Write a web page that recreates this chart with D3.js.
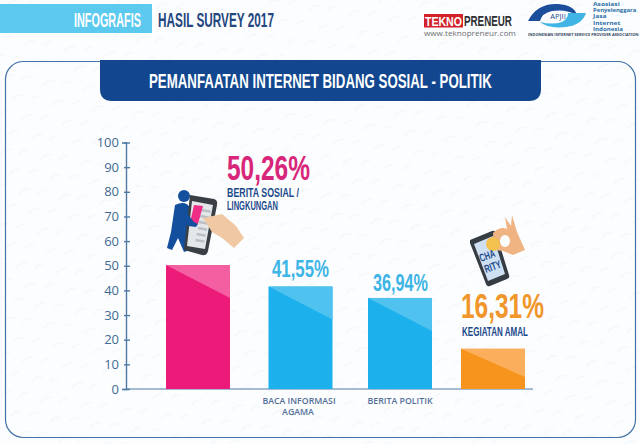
<!DOCTYPE html>
<html>
<head>
<meta charset="utf-8">
<script src="https://cdnjs.cloudflare.com/ajax/libs/d3/7.8.5/d3.min.js"></script>
<style>
html, body { margin: 0; padding: 0; background: #fcfdfe; overflow: hidden; }
svg { display: block; }
.narrow { font-family: "Liberation Sans Narrow", "Liberation Sans", sans-serif; font-weight: 700; }
.plain { font-family: "Open Sans", sans-serif; }
</style>
</head>
<body>
<script>
const width = 640,
      height = 444;

const categories = ["Berita Sosial", "Baca Informasi Agama", "Berita Politik", "Kegiatan Amal"];
const values = [50.26, 41.55, 36.94, 16.31];
const valueLabels = ["50,26%", "41,55%", "36,94%", "16,31%"];
const ticks = [0, 10, 20, 30, 40, 50, 60, 70, 80, 90, 100];
const barColors = ["#ec1b7a", "#1cb0ec", "#1cb0ec", "#f7941e"];
const shadeColors = ["#f45fa2", "#4fc2ef", "#4fc2ef", "#fbaf5d"];
const textColors = ["#d8277a", "#3db5e6", "#3db5e6", "#f0962a"];
const navy = "#1d4a8c";

let svg = d3.select("body")
    .append("svg")
    .attr("width", width)
    .attr("height", height);

// faint wallpaper behind everything
let pat = svg.append("defs").append("pattern")
    .attr("id", "paper")
    .attr("width", 34).attr("height", 22)
    .attr("patternUnits", "userSpaceOnUse")
    .attr("patternTransform", "rotate(-25)");
pat.append("path")
    .attr("d", "M3 8 q6 -4 12 0 M20 16 q5 -3 10 0")
    .attr("fill", "none").attr("stroke", "#f4f8fb").attr("stroke-width", 1.6);
svg.append("rect").attr("width", width).attr("height", height).attr("fill", "#fcfdfe");
svg.append("rect").attr("width", width).attr("height", height).attr("fill", "url(#paper)");

// top strip
svg.append("rect").attr("x", 0).attr("y", 4).attr("width", 152).attr("height", 29).attr("fill", "#5cc9ef");

// w squeezes the text to that width, extra turns it
function label(text, x, y, size, fill, w, cls, anchor, rot, parent) {
  let t = (parent || svg).append("text")
      .attr("class", cls || "narrow")
      .attr("font-size", size)
      .attr("fill", fill)
      .attr("text-anchor", anchor || "start")
      .text(text);
  let k = w ? w / t.node().getComputedTextLength() : 1;
  t.attr("transform", `translate(${x},${y}) rotate(${rot || 0}) scale(${k},1)`);
  return t;
}
label("INFOGRAFIS", 74, 27, 19.5, "#ffffff", 67);
label("HASIL SURVEY 2017", 158, 27, 19.5, "#24477f", 116);

// teknopreneur logo
svg.append("rect").attr("x", 424).attr("y", 14).attr("width", 39).attr("height", 13.5).attr("fill", "#d2232a");
label("TEKNO", 425, 26, 13, "#ffffff", 37);
label("PRENEUR", 464, 26, 14, "#2f2f33", 48);
label("www.teknopreneur.com", 424, 36, 7.5, "#6d6d72", 92, "plain");

// apjii logo
svg.append("path").attr("d", "M528 21 Q537 3 558 4 Q574 5 577 15 Q566 9 552 11 Q542 13 540 21 Z").attr("fill", "#1b4f9c");
svg.append("path").attr("d", "M586 13 Q582 25 566 27 Q548 29 540 22 Q552 25 562 22 Q568 19 568 13 Z").attr("fill", "#3fb4e5");
label("APJII", 558, 19, 7.5, navy, null, "plain", "middle");
["Asosiasi", "Penyelenggara", "Jasa", "Internet", "Indonesia"].forEach((d, i) => {
  label(d, 593, 6 + i * 6.2, 5, "#2b6fa8", 3.1 * d.length, "plain").attr("font-weight", 700);
});
label("INDONESIAN INTERNET SERVICE PROVIDER ASSOCIATION", 528, 35.5, 3.6, "#33475f", 105, "plain").attr("font-weight", 700);

// panel and heading
svg.append("rect").attr("x", 5.5).attr("y", 61.5).attr("width", 630).attr("height", 376)
    .attr("rx", 18).attr("fill", "none").attr("stroke", "#4272a8").attr("stroke-width", 1.2);
svg.append("path").attr("d", "M100 60 H541 V89 Q541 101 529 101 H112 Q100 101 100 89 Z").attr("fill", "#12478f");
label("PEMANFAATAN INTERNET BIDANG SOSIAL - POLITIK", 149, 88, 20, "#ffffff", 343);

// scales
let y = d3.scaleLinear().domain([0, 100]).range([389, 142.5]);
let x = d3.scaleOrdinal().domain(categories).range([198, 300.5, 400, 493]);
const barW = 64;

// y axis
let yAxis = d3.axisLeft(y).tickValues(ticks).tickSize(4).tickPadding(3).tickFormat(d3.format("d"));
let axisG = svg.append("g").attr("transform", "translate(126,0)").call(yAxis);
axisG.selectAll(".domain").attr("stroke", "#4f7aa6").attr("stroke-width", 1.4);
axisG.selectAll(".tick line").attr("stroke", "#4f7aa6").attr("stroke-width", 1.4).attr("x2", -2).attr("x1", 4);
axisG.selectAll(".tick text")
    .attr("font-family", "'Open Sans', sans-serif").attr("font-size", 13).attr("fill", "#3f6a94");
svg.append("line").attr("x1", 126).attr("x2", 533).attr("y1", y(0)).attr("y2", y(0))
    .attr("stroke", "#4f7aa6").attr("stroke-width", 1.2);

// bars
let bars = svg.append("g").selectAll("g").data(categories).enter().append("g");
bars.append("rect")
    .attr("x", d => x(d) - barW / 2)
    .attr("y", (d, i) => y(values[i]))
    .attr("width", barW)
    .attr("height", (d, i) => y(0) - y(values[i]))
    .attr("fill", (d, i) => barColors[i]);
bars.append("path")
    .attr("d", (d, i) => {
      let t = y(values[i]), l = x(d) - barW / 2, r = l + barW;
      return `M${l} ${t} H${r} V${t + Math.min(33, (y(0) - t) * 0.7)} Z`;
    })
    .attr("fill", (d, i) => shadeColors[i]);

// value labels
const labelBoxes = [[227, 180, 83, 35], [272, 277, 57, 24], [373, 291, 55, 24], [461, 318, 83, 35]];
valueLabels.forEach((d, i) => {
  let b = labelBoxes[i];
  label(d, b[0], b[1], b[3], textColors[i], b[2]);
});

label("BERITA SOSIAL /", 227, 197, 13, navy, 72);
label("LINGKUNGAN", 227, 209.5, 13, navy, 51);
label("KEGIATAN AMAL", 462, 335.5, 12, navy, 66);
label("BACA INFORMASI", 299, 403.5, 9, "#54709a", 71, "plain", "middle").attr("font-weight", 600);
label("AGAMA", 298, 415, 9, "#54709a", 31, "plain", "middle").attr("font-weight", 600);
label("BERITA POLITIK", 400, 403.5, 9, "#54709a", 63, "plain", "middle").attr("font-weight", 600);

// person with phone
let ic1 = svg.append("g");
ic1.append("circle").attr("cx", 184).attr("cy", 196).attr("r", 6).attr("fill", "#134f9c");
ic1.append("path").attr("d", "M175 205 Q186 200 190 208 L196 222 L190 226 L186 236 L190 250 L184 252 L178 238 L172 250 L167 248 L171 232 Z").attr("fill", "#134f9c");
ic1.append("path").attr("d", "M190 195 L214 199 Q218 200 217 205 L208 251 Q207 256 202 255 L184 250 Z").attr("fill", "#3a3f46");
ic1.append("path").attr("d", "M192 201 L213 205 L205 249 L187 246 Z").attr("fill", "#e4e7ea");
[0, 1, 2, 3, 4, 5].forEach(i => {
  ic1.append("path").attr("d", `M${201.5 - i * 1.2} ${210 + i * 6} l9 1.6`)
      .attr("stroke", "#b9bec4").attr("stroke-width", 2.4);
});
ic1.append("path").attr("d", "M194 205 L203 206 L198 224 L190 223 Z").attr("fill", "#ee2d86");
ic1.append("path").attr("d", "M186 212 L194 222 L198 224 L196 227 L188 226 L180 216 Z").attr("fill", "#134f9c");
ic1.append("path").attr("d", "M203 218 L222 214 L236 226 L244 238 L234 248 L222 238 L212 232 Z").attr("fill", "#f1c8a4");

// hand, coin and charity phone
let ic2 = svg.append("g");
ic2.append("path").attr("d", "M470 240 L492 231 Q495 230 496 233 L509 275 Q510 278 507 279 L490 286 Q487 287 486 284 L470 243 Z").attr("fill", "#363c44");
ic2.append("path").attr("d", "M474 244 L493 236 L505 274 L488 281 Z").attr("fill", "#cfe0f2");
ic2.append("path").attr("d", "M493 233 Q500 226 507 229 L505 217 L511 226 L512 215 L517 232 L525 250 L513 255 L503 251 L494 250 Z").attr("fill", "#f0b483");
ic2.append("ellipse").attr("cx", 505).attr("cy", 241).attr("rx", 5).attr("ry", 6).attr("fill", "#fcfdfe");
ic2.append("circle").attr("cx", 493).attr("cy", 244).attr("r", 7).attr("fill", "#f2c14e");
label("CHA", 481, 262, 11, navy, 16, null, null, -20, ic2);
label("RITY", 486, 273, 11, navy, 17, null, null, -20, ic2);
</script>
</body>
</html>
